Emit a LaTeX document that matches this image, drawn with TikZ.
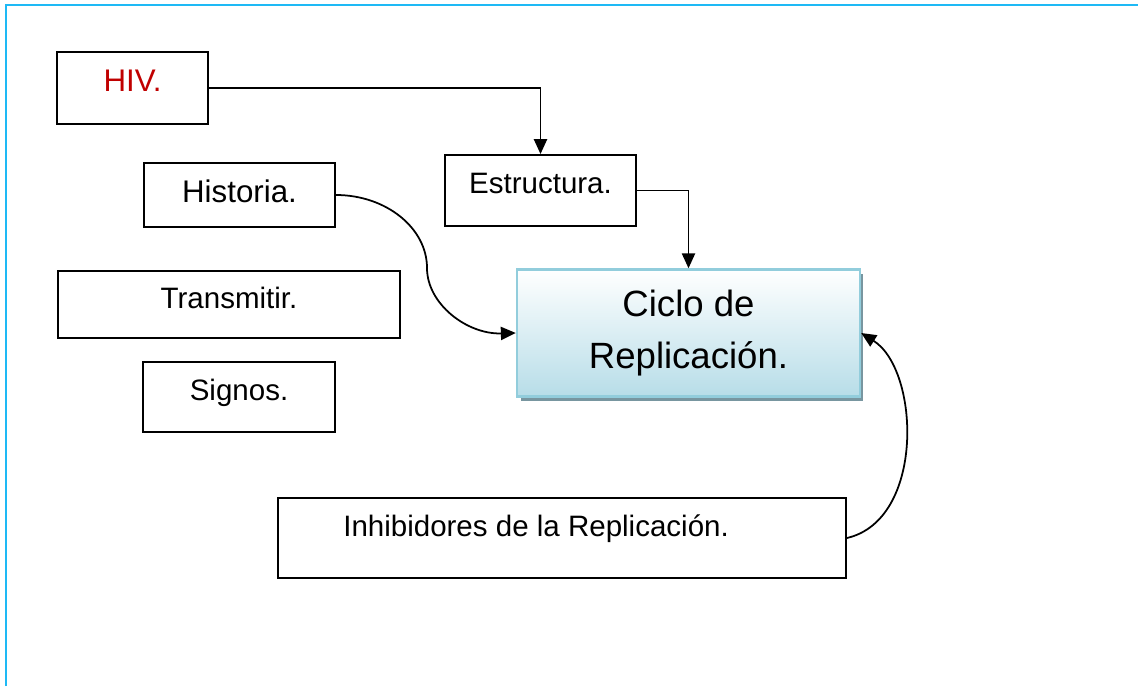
\documentclass[tikz,border=0pt]{standalone}
\usepackage{fontspec}
\setmainfont{Liberation Sans}
\usetikzlibrary{arrows.meta,shadows}
\definecolor{framecol}{RGB}{30,185,245}
\definecolor{hivred}{RGB}{192,0,0}
\definecolor{cicloedge}{RGB}{146,205,220}
\definecolor{ciclofill}{RGB}{183,221,232}
\definecolor{cicloshadow}{RGB}{120,150,160}
\begin{document}
\begin{tikzpicture}[x=0.02cm, y=-0.02cm,
  box/.style={draw, line width=1.1pt, inner sep=0pt, font=\fontsize{16.8}{20}\selectfont, text height=12pt, text depth=8pt},
  link/.style={line width=1pt, -{Triangle[length=8.5pt,width=7.5pt]}}]
\useasboundingbox (0,0) rectangle (1138,686);
% Frame
\draw[framecol, line width=1.4pt] (6,686) -- (6,5) -- (1138,5);
% Topic boxes
\node[box, minimum width=3.02cm, minimum height=1.44cm, text=hivred, font=\fontsize{17.8}{21}\selectfont] (hiv) at (132.5,88) {HIV.};
\node[box, minimum width=3.82cm, minimum height=1.28cm, font=\fontsize{17.8}{21}\selectfont, text depth=4pt] (hist) at (239.5,195) {Historia.};
\node[box, minimum width=3.82cm, minimum height=1.42cm, text depth=9pt] (estr) at (540.5,190.5) {Estructura.};
\node[box, minimum width=6.84cm, minimum height=1.34cm] (trans) at (229,304.5) {Transmitir.};
\node[box, minimum width=3.84cm, minimum height=1.40cm] (sig) at (239,397) {Signos.};
\node[box, minimum width=11.36cm, minimum height=1.60cm, text depth=13.5pt] (inhib) at (562,538) {Inhibidores de la Replicaci\'on.\hspace*{29.5pt}};
% Central box
\node[draw=cicloedge, line width=1.4pt, minimum width=6.86cm, minimum height=2.54cm, align=center,
  top color=white, bottom color=ciclofill,
  drop shadow={shadow xshift=2pt, shadow yshift=-2.4pt, fill=cicloshadow, opacity=1},
  font=\fontsize{20.8}{29.5}\selectfont] (ciclo) at (688.5,333) {Ciclo de\\Replicaci\'on.};
% Connectors
\draw[link] (hiv.east) -| (estr.north);
\draw[link] (estr.east) -| (ciclo.north);
\coordinate (histbend) at (427,268);
\draw[link] (hist.east) .. controls (386,195) and (427,228) .. (histbend) .. controls (427,304) and (467,334.5) .. (ciclo.west);
\draw[link] (inhib.east) .. controls (925,520) and (920,370) .. (ciclo.east);
\end{tikzpicture}
\end{document}
